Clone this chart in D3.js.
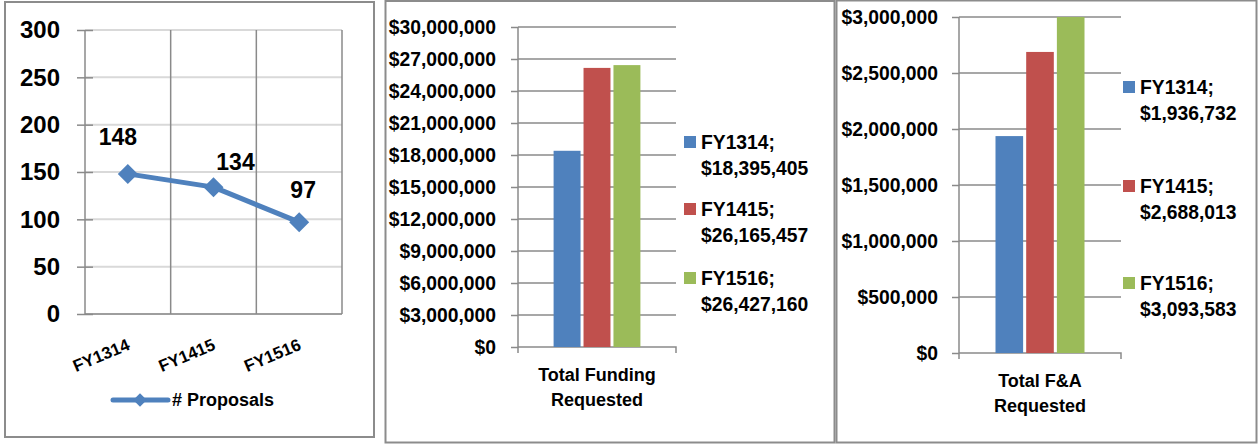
<!DOCTYPE html>
<html>
<head>
<meta charset="utf-8">
<script src="https://cdn.jsdelivr.net/npm/d3@7"></script>
<style>
  html, body { margin: 0; padding: 0; background: #fff; }
  svg { display: block; font-family: "Liberation Sans", Arial, sans-serif; font-weight: bold; }
</style>
</head>
<body>
<svg id="chart" width="1259" height="444"></svg>
<script>
// ---------- DATA ----------
const fiscalYears = ["FY1314", "FY1415", "FY1516"];
const proposals = [148, 134, 97];
const proposalTicks = [0, 50, 100, 150, 200, 250, 300];
const proposalSeriesName = "# Proposals";

const fundingCategory = ["Total Funding", "Requested"];
const fundingValues = [18395405, 26165457, 26427160];
const fundingTicks = [0, 3000000, 6000000, 9000000, 12000000, 15000000, 18000000, 21000000, 24000000, 27000000, 30000000];

const faCategory = ["Total F&A", "Requested"];
const faValues = [1936732, 2688013, 3093583];
const faTicks = [0, 500000, 1000000, 1500000, 2000000, 2500000, 3000000];

const seriesColors = ["#4F81BD", "#C0504D", "#9BBB59"];

// ---------- SETUP ----------
const svg = d3.select("#chart");
const gridDark = "#8a8a8a";
const gridLight = "#d9d9d9";
const frameColor = "#8c8c8c";
const money = d3.format("$,");

svg.append("rect").attr("width", 1259).attr("height", 444).attr("fill", "#fff");

// panel frames
[[5, 2, 369, 435], [385.5, 1, 449, 441.5], [836.5, 0.5, 420, 442]].forEach(f => {
  svg.append("rect").attr("x", f[0]).attr("y", f[1]).attr("width", f[2]).attr("height", f[3])
    .attr("fill", "none").attr("stroke", frameColor).attr("stroke-width", 2);
});

// ---------- PANEL 1: line chart ----------
(function () {
  const left = 85, right = 342, top = 30, bottom = 314;
  const x = d3.scaleBand().domain(fiscalYears).range([left, right]);
  const y = d3.scaleLinear().domain([0, 300]).range([bottom, top]);
  const g = svg.append("g");

  // horizontal light gridlines
  g.selectAll(".hg").data(proposalTicks).join("line")
    .attr("x1", left).attr("x2", right)
    .attr("y1", d => y(d)).attr("y2", d => y(d))
    .attr("stroke", gridLight).attr("stroke-width", 2);
  // vertical dark gridlines at category boundaries
  g.selectAll(".vg").data(fiscalYears).join("line")
    .attr("x1", d => x(d) + x.bandwidth()).attr("x2", d => x(d) + x.bandwidth())
    .attr("y1", top).attr("y2", bottom)
    .attr("stroke", gridDark).attr("stroke-width", 1.5);

  // y axis
  const ax = g.append("g").attr("transform", `translate(${left},0)`)
    .call(d3.axisLeft(y).tickValues(proposalTicks).tickSize(8).tickPadding(17));
  ax.select(".domain").attr("stroke", gridDark).attr("stroke-width", 1.5)
    .attr("d", `M0,${top}V${bottom}`);
  ax.selectAll(".tick line").attr("stroke", gridDark).attr("stroke-width", 1.5).attr("x2", 8).attr("x1", -8);
  ax.selectAll(".tick text").attr("font-size", 24).attr("font-weight", "bold")
    .attr("fill", "#000").attr("font-family", "Liberation Sans, Arial, sans-serif");
  // bottom axis line
  g.append("line").attr("x1", left).attr("x2", right).attr("y1", bottom).attr("y2", bottom)
    .attr("stroke", gridDark).attr("stroke-width", 1.5);

  // x labels rotated
  g.selectAll(".xl").data(fiscalYears).join("text")
    .attr("transform", d => `translate(${x(d) + x.bandwidth() / 2 + 3},349) rotate(-23)`)
    .attr("text-anchor", "end").attr("font-size", 17).attr("fill", "#000")
    .text(d => d);

  // line
  const pts = fiscalYears.map((c, i) => [x(c) + x.bandwidth() / 2, y(proposals[i])]);
  g.append("path").attr("d", d3.line()(pts)).attr("fill", "none")
    .attr("stroke", seriesColors[0]).attr("stroke-width", 5).attr("stroke-linejoin", "round");
  const diamond = d3.symbol(d3.symbolSquare, 200);
  g.selectAll(".pt").data(pts).join("path")
    .attr("d", diamond).attr("fill", seriesColors[0])
    .attr("transform", d => `translate(${d[0]},${d[1]}) rotate(45)`);

  // data labels
  const labelOffsets = [[-10, -37], [22, -25], [4, -32]];
  g.selectAll(".dl").data(pts).join("text")
    .attr("x", (d, i) => d[0] + labelOffsets[i][0])
    .attr("y", (d, i) => d[1] + labelOffsets[i][1])
    .attr("dy", "0.36em").attr("text-anchor", "middle").attr("font-size", 23).attr("fill", "#000")
    .text((d, i) => proposals[i]);

  // legend
  g.append("line").attr("x1", 113).attr("x2", 168).attr("y1", 400).attr("y2", 400)
    .attr("stroke", seriesColors[0]).attr("stroke-width", 5).attr("stroke-linecap", "round");
  g.append("path").attr("d", d3.symbol(d3.symbolSquare, 90)).attr("fill", seriesColors[0])
    .attr("transform", "translate(140,400) rotate(45)");
  g.append("text").attr("x", 172).attr("y", 400).attr("dy", "0.36em")
    .attr("font-size", 18).attr("fill", "#000").text(proposalSeriesName);
})();

// ---------- BAR PANELS ----------
function barPanel(cfg) {
  const { left, right, top, bottom, max, ticks, values, category, legendX, legendYs, labelYs } = cfg;
  const g = svg.append("g");
  const y = d3.scaleLinear().domain([0, max]).range([bottom, top]).clamp(true);
  const outer = d3.scaleBand().domain([category.join(" ")]).range([left, right]).paddingOuter(0.41);
  const inner = d3.scaleBand().domain(fiscalYears)
    .range([outer(category.join(" ")), outer(category.join(" ")) + outer.bandwidth()]).paddingInner(0.1);

  // gridlines
  g.selectAll(".hg").data(ticks.filter(t => t > 0)).join("line")
    .attr("x1", left).attr("x2", right).attr("y1", d => y(d)).attr("y2", d => y(d))
    .attr("stroke", gridDark).attr("stroke-width", 1.5);

  // y axis
  const ax = g.append("g").attr("transform", `translate(${left},0)`)
    .call(d3.axisLeft(y).tickValues(ticks).tickSize(7).tickPadding(cfg.tickPad).tickFormat(money));
  ax.select(".domain").attr("stroke", gridDark).attr("stroke-width", 1.5)
    .attr("d", `M0,${top}V${bottom + 6}`);
  ax.selectAll(".tick line").attr("stroke", gridDark).attr("stroke-width", 1.5);
  ax.selectAll(".tick text").attr("font-size", 19.3).attr("font-weight", "bold")
    .attr("fill", "#000").attr("font-family", "Liberation Sans, Arial, sans-serif");

  // x axis
  g.append("path").attr("d", `M${left},${bottom}H${right}V${bottom + 6}`)
    .attr("fill", "none").attr("stroke", gridDark).attr("stroke-width", 1.5);

  // bars
  g.selectAll(".bar").data(values).join("rect")
    .attr("x", (d, i) => inner(fiscalYears[i]))
    .attr("width", inner.bandwidth())
    .attr("y", d => y(d))
    .attr("height", d => bottom - y(d))
    .attr("fill", (d, i) => seriesColors[i]);

  // category label
  const cx = outer(category.join(" ")) + outer.bandwidth() / 2;
  g.selectAll(".cl").data(category).join("text")
    .attr("x", cx).attr("y", (d, i) => labelYs[i]).attr("dy", "0.36em")
    .attr("text-anchor", "middle").attr("font-size", 18).attr("fill", "#000").text(d => d);

  // legend
  const lg = g.selectAll(".lg").data(fiscalYears).join("g")
    .attr("transform", (d, i) => `translate(${legendX},${legendYs[i]})`);
  lg.append("rect").attr("x", 0).attr("y", -6).attr("width", 12).attr("height", 12)
    .attr("fill", (d, i) => seriesColors[i]);
  lg.append("text").attr("x", 17).attr("y", 0).attr("dy", "0.36em").attr("font-size", 19.3)
    .attr("fill", "#000").text(d => d + ";");
  lg.append("text").attr("x", 17).attr("y", 26).attr("dy", "0.36em").attr("font-size", 19.3)
    .attr("fill", "#000").text((d, i) => money(values[i]));
}

barPanel({
  left: 518, right: 676, top: 27, bottom: 347, max: 30000000, ticks: fundingTicks,
  values: fundingValues, category: fundingCategory, tickPad: 15,
  legendX: 684, legendYs: [142, 209, 278], labelYs: [375, 400]
});
barPanel({
  left: 959, right: 1121, top: 17, bottom: 353, max: 3000000, ticks: faTicks,
  values: faValues, category: faCategory, tickPad: 14,
  legendX: 1123, legendYs: [87, 186, 283], labelYs: [381, 406]
});
</script>
</body>
</html>
